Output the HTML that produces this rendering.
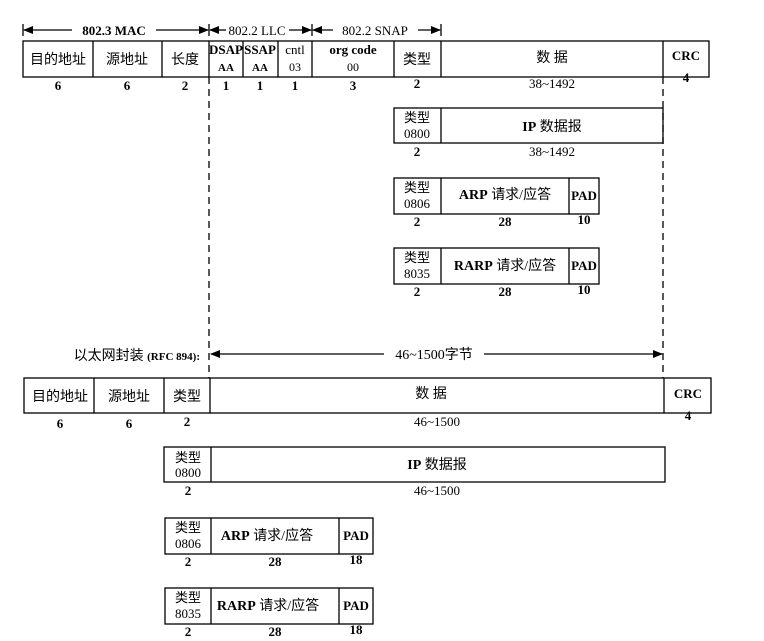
<!DOCTYPE html>
<html><head><meta charset="utf-8"><style>
html,body{margin:0;padding:0;background:#fff;}
svg{display:block;}
text{font-family:"Liberation Serif","Noto Serif CJK SC",serif;fill:#000;}
.c{font-family:"Liberation Serif","Noto Sans CJK SC",serif;}
.b{font-weight:bold;}
</style></head><body>
<svg width="764" height="641" viewBox="0 0 764 641" xmlns="http://www.w3.org/2000/svg">
<defs>
<marker id="ar" markerWidth="10" markerHeight="8" refX="9" refY="4" orient="auto" markerUnits="userSpaceOnUse"><path d="M0,0 L10,4 L0,8z" fill="#000"/></marker>
<marker id="al" markerWidth="10" markerHeight="8" refX="1" refY="4" orient="auto" markerUnits="userSpaceOnUse"><path d="M10,0 L0,4 L10,8z" fill="#000"/></marker>
</defs>
<g stroke="#000" stroke-width="1.3" fill="none">
<line x1="23" y1="24" x2="23" y2="36"/><line x1="209" y1="24" x2="209" y2="36"/><line x1="312" y1="24" x2="312" y2="36"/><line x1="441" y1="24" x2="441" y2="36"/>
<line x1="24" y1="30" x2="72" y2="30" marker-start="url(#al)"/>
<line x1="156" y1="30" x2="208" y2="30" marker-end="url(#ar)"/>
<line x1="210" y1="30" x2="226" y2="30" marker-start="url(#al)"/>
<line x1="289" y1="30" x2="311" y2="30" marker-end="url(#ar)"/>
<line x1="313" y1="30" x2="333" y2="30" marker-start="url(#al)"/>
<line x1="418" y1="30" x2="440" y2="30" marker-end="url(#ar)"/>
<rect x="23" y="41" width="686" height="36"/>
<line x1="93" y1="41" x2="93" y2="77"/><line x1="162" y1="41" x2="162" y2="77"/><line x1="209" y1="41" x2="209" y2="77"/><line x1="243" y1="41" x2="243" y2="77"/><line x1="278" y1="41" x2="278" y2="77"/><line x1="312" y1="41" x2="312" y2="77"/><line x1="394" y1="41" x2="394" y2="77"/><line x1="441" y1="41" x2="441" y2="77"/><line x1="663" y1="41" x2="663" y2="77"/>
<rect x="394" y="108" width="269" height="35"/><line x1="441" y1="108" x2="441" y2="143"/>
<rect x="394" y="178" width="205" height="36"/><line x1="441" y1="178" x2="441" y2="214"/><line x1="569" y1="178" x2="569" y2="214"/>
<rect x="394" y="248" width="205" height="36"/><line x1="441" y1="248" x2="441" y2="284"/><line x1="569" y1="248" x2="569" y2="284"/>
<line x1="209" y1="77" x2="209" y2="378" stroke-dasharray="7,5"/>
<line x1="663" y1="77" x2="663" y2="378" stroke-dasharray="7,5"/>
<line x1="211" y1="354" x2="384" y2="354" marker-start="url(#al)"/>
<line x1="484" y1="354" x2="662" y2="354" marker-end="url(#ar)"/>
<rect x="24" y="378" width="687" height="35"/>
<line x1="94" y1="378" x2="94" y2="413"/><line x1="164" y1="378" x2="164" y2="413"/><line x1="210" y1="378" x2="210" y2="413"/><line x1="664" y1="378" x2="664" y2="413"/>
<rect x="164" y="447" width="501" height="35"/><line x1="211" y1="447" x2="211" y2="482"/>
<rect x="165" y="518" width="208" height="36"/><line x1="211" y1="518" x2="211" y2="554"/><line x1="339" y1="518" x2="339" y2="554"/>
<rect x="165" y="588" width="208" height="36"/><line x1="211" y1="588" x2="211" y2="624"/><line x1="339" y1="588" x2="339" y2="624"/>
</g>
<g font-size="13" text-anchor="middle">
<text x="114" y="35" class="b">802.3 MAC</text>
<text x="257" y="35">802.2 LLC</text>
<text x="375" y="35">802.2 SNAP</text>
<text x="58" y="64" class="c" font-size="14">目的地址</text>
<text x="127" y="64" class="c" font-size="14">源地址</text>
<text x="185" y="64" class="c" font-size="14">长度</text>
<text x="226" y="54" class="b">DSAP</text><text x="226" y="71" font-size="11" class="b">AA</text>
<text x="260" y="54" class="b">SSAP</text><text x="260" y="71" font-size="11" class="b">AA</text>
<text x="295" y="54">cntl</text><text x="295" y="71" font-family="Liberation Mono" font-size="12">03</text>
<text x="353" y="54" class="b">org code</text><text x="353" y="71" font-family="Liberation Mono" font-size="12">00</text>
<text x="417" y="64" class="c" font-size="14">类型</text>
<text x="552" y="62" class="c" font-size="14">数 据</text>
<text x="686" y="60" class="b">CRC</text>
<g class="b"><text x="58" y="90">6</text><text x="127" y="90">6</text><text x="185" y="90">2</text><text x="226" y="90">1</text><text x="260" y="90">1</text><text x="295" y="90">1</text><text x="353" y="90">3</text><text x="417" y="88">2</text><text x="686" y="82">4</text></g>
<text x="552" y="88">38~1492</text>
<text x="417" y="122" class="c">类型</text><text x="417" y="138">0800</text>
<text x="552" y="131" class="c" font-size="14"><tspan class="b">IP</tspan> 数据报</text>
<text x="417" y="156" class="b">2</text><text x="552" y="156">38~1492</text>
<text x="417" y="192" class="c">类型</text><text x="417" y="208">0806</text>
<text x="505" y="199" class="c" font-size="14"><tspan class="b">ARP</tspan> 请求/应答</text>
<text x="584" y="200" class="b">PAD</text>
<text x="417" y="226" class="b">2</text><text x="505" y="226" class="b">28</text><text x="584" y="224" class="b">10</text>
<text x="417" y="262" class="c">类型</text><text x="417" y="278">8035</text>
<text x="505" y="270" class="c" font-size="14"><tspan class="b">RARP</tspan> 请求/应答</text>
<text x="584" y="270" class="b">PAD</text>
<text x="417" y="296" class="b">2</text><text x="505" y="296" class="b">28</text><text x="584" y="294" class="b">10</text>
<text x="200" y="360" text-anchor="end" class="c" font-size="14">以太网封装 <tspan class="b" font-size="11">(RFC 894):</tspan></text>
<text x="434" y="359" class="c" font-size="14">46~1500字节</text>
<text x="60" y="401" class="c" font-size="14">目的地址</text>
<text x="129" y="401" class="c" font-size="14">源地址</text>
<text x="187" y="401" class="c" font-size="14">类型</text>
<text x="431" y="398" class="c" font-size="14">数 据</text>
<text x="688" y="398" class="b">CRC</text>
<g class="b"><text x="60" y="428">6</text><text x="129" y="428">6</text><text x="187" y="426">2</text><text x="688" y="420">4</text></g>
<text x="437" y="426">46~1500</text>
<text x="188" y="462" class="c">类型</text><text x="188" y="477">0800</text>
<text x="437" y="469" class="c" font-size="14"><tspan class="b">IP</tspan> 数据报</text>
<text x="188" y="495" class="b">2</text><text x="437" y="495">46~1500</text>
<text x="188" y="532" class="c">类型</text><text x="188" y="548">0806</text>
<text x="267" y="540" class="c" font-size="14"><tspan class="b">ARP</tspan> 请求/应答</text>
<text x="356" y="540" class="b">PAD</text>
<text x="188" y="566" class="b">2</text><text x="275" y="566" class="b">28</text><text x="356" y="564" class="b">18</text>
<text x="188" y="602" class="c">类型</text><text x="188" y="618">8035</text>
<text x="268" y="610" class="c" font-size="14"><tspan class="b">RARP</tspan> 请求/应答</text>
<text x="356" y="610" class="b">PAD</text>
<text x="188" y="636" class="b">2</text><text x="275" y="636" class="b">28</text><text x="356" y="634" class="b">18</text>
</g>
</svg>
</body></html>
